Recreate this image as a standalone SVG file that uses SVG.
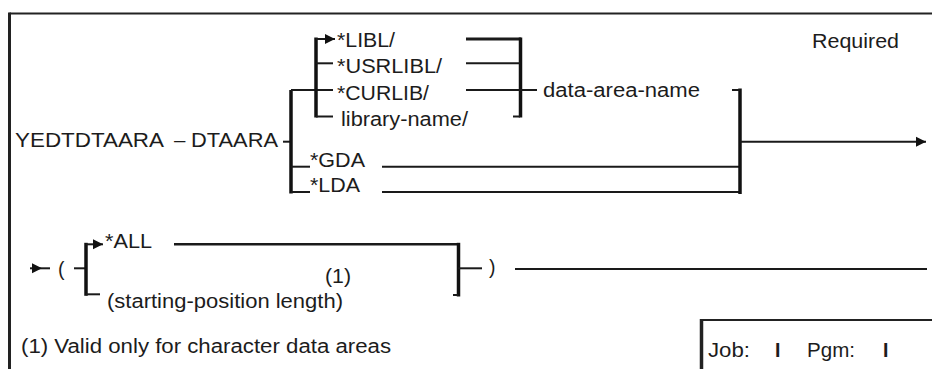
<svg xmlns="http://www.w3.org/2000/svg" width="932" height="369" viewBox="0 0 932 369">
  <style>
    text { font-family: "Liberation Sans", Arial, Helvetica, sans-serif; font-size: 19.5px; fill: #1c1c1c; }
    .big { font-size: 20.5px; }
    .ln { fill: none; stroke: #1a1a1a; stroke-width: 2; }
    .th { fill: none; stroke: #111; stroke-width: 3.5; }
    .fr { fill: none; stroke: #222; stroke-width: 2; }
  </style>
  <defs>
    <marker id="arr" viewBox="0 0 10 10" refX="10" refY="5" markerWidth="10" markerHeight="11" markerUnits="userSpaceOnUse" orient="auto">
      <path d="M0,0 L10,5 L0,10 z" fill="#111"/>
    </marker>
  </defs>
  <rect x="0" y="0" width="932" height="369" fill="#ffffff"/>

  <g id="frame">
    <path class="fr" d="M932,13.5 H9.5"/>
    <path class="fr" style="stroke-width:3" d="M9.5,12.5 V369"/>
  </g>

  <g id="job-box">
    <path class="fr" d="M701,320 H932"/>
    <path class="fr" style="stroke-width:3.5" d="M701.5,319 V369"/>
    <text x="708" y="357" textLength="42" lengthAdjust="spacingAndGlyphs">Job:</text>
    <text x="775" y="357" style="font-weight:bold">I</text>
    <text x="807" y="357" textLength="48" lengthAdjust="spacingAndGlyphs">Pgm:</text>
    <text x="883" y="357" style="font-weight:bold">I</text>
  </g>

  <g id="required">
    <text x="812" y="48" textLength="87" lengthAdjust="spacingAndGlyphs">Required</text>
  </g>

  <g id="command">
    <text class="big" x="15" y="147" textLength="149" lengthAdjust="spacingAndGlyphs">YEDTDTAARA</text>
    <text class="big" x="174" y="147">–</text>
    <text class="big" x="191" y="147" textLength="87" lengthAdjust="spacingAndGlyphs">DTAARA</text>
  </g>

  <g id="libl"><text x="337" y="46.5" textLength="58" lengthAdjust="spacingAndGlyphs">*LIBL/</text></g>
  <g id="usrlibl"><text x="337" y="73" textLength="105" lengthAdjust="spacingAndGlyphs">*USRLIBL/</text></g>
  <g id="curlib"><text x="337" y="99.5" textLength="92" lengthAdjust="spacingAndGlyphs">*CURLIB/</text></g>
  <g id="library-name"><text x="341" y="126" textLength="127" lengthAdjust="spacingAndGlyphs">library-name/</text></g>
  <g id="data-area-name"><text x="543" y="96.5" textLength="157" lengthAdjust="spacingAndGlyphs">data-area-name</text></g>
  <g id="gda"><text x="310" y="167" textLength="55" lengthAdjust="spacingAndGlyphs">*GDA</text></g>
  <g id="lda"><text x="310" y="192" textLength="50" lengthAdjust="spacingAndGlyphs">*LDA</text></g>

  <g id="open-paren"><text x="58" y="276">(</text></g>
  <g id="all"><text x="105" y="248" textLength="47" lengthAdjust="spacingAndGlyphs">*ALL</text></g>
  <g id="note-ref"><text x="325" y="283" textLength="26" lengthAdjust="spacingAndGlyphs">(1)</text></g>
  <g id="starting-position"><text x="107" y="308" textLength="236" lengthAdjust="spacingAndGlyphs">(starting-position length)</text></g>
  <g id="close-paren"><text x="489" y="274">)</text></g>

  <g id="footnote">
    <text x="21" y="353" textLength="370" lengthAdjust="spacingAndGlyphs">(1) Valid only for character data areas</text>
  </g>

  <g id="connectors">
    <!-- row 1 -->
    <path class="ln" d="M283,141.7 H292"/>
    <path class="th" d="M291,90 V193.5"/>
    <path class="ln" d="M291,90 H333"/>
    <path class="ln" d="M291,166.7 H310"/>
    <path class="ln" d="M291,192 H310"/>
    <path class="th" d="M316,37.5 V117.5"/>
    <path class="ln" d="M316,39 H335" marker-end="url(#arr)"/>
    <path class="ln" d="M316,63.3 H333"/>
    <path class="ln" d="M316,116.5 H333"/>
    <path class="ln" style="stroke-width:3" d="M466,39 H521"/>
    <path class="th" d="M520.5,37.5 V117.5"/>
    <path class="ln" d="M466,63.3 H520"/>
    <path class="ln" d="M466,90 H537"/>
    <path class="ln" d="M513,116.5 H520"/>
    <path class="ln" d="M382,166.7 H740"/>
    <path class="ln" d="M382,192 H740"/>
    <path class="th" d="M740,88.5 V194"/>
    <path class="ln" d="M732,90 H740"/>
    <path class="ln" d="M740,141.7 H926" marker-end="url(#arr)"/>
    <!-- row 2 -->
    <path class="ln" d="M30,268.3 H42" marker-end="url(#arr)"/>
    <path class="ln" d="M42,268.3 H50"/>
    <path class="ln" d="M74,268.3 H86"/>
    <path class="th" d="M86,242.8 V295.8"/>
    <path class="ln" d="M86,244.3 H103" marker-end="url(#arr)"/>
    <path class="ln" d="M86,294.3 H100"/>
    <path class="ln" style="stroke-width:2.5" d="M174,244.3 H459"/>
    <path class="th" d="M458.5,242.8 V296.5"/>
    <path class="ln" d="M453,295 H458"/>
    <path class="ln" d="M458,268.3 H482"/>
    <path class="ln" d="M515,269 H927"/>
  </g>
</svg>
